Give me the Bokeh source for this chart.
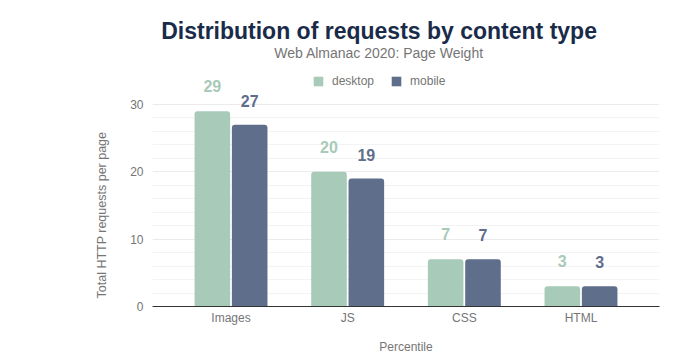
import math
from bokeh.plotting import figure
from bokeh.models import (ColumnDataSource, FactorRange, Range1d, FixedTicker,
                          Legend, LegendItem, Label, Title)
from bokeh.transform import dodge
from bokeh.core.properties import value
from bokeh.embed import file_html
from bokeh.resources import INLINE

# ---- data ----
categories = ["Images", "JS", "CSS", "HTML"]
desktop = [29, 20, 7, 3]
mobile = [27, 19, 7, 3]
y_ticks = [0, 10, 20, 30]
y_minor_ticks = [2, 4, 6, 8, 12, 14, 16, 18, 22, 24, 26, 28]

title_text = "Distribution of requests by content type"
subtitle_text = "Web Almanac 2020: Page Weight"
x_label = "Percentile"
y_label = "Total HTTP requests per page"

DESKTOP_C = "#a8cab9"
MOBILE_C = "#5f6e8a"
GRAY = "#757575"
FONT = "Liberation Sans"

source = ColumnDataSource(data=dict(
    cat=categories,
    desktop=desktop,
    mobile=mobile,
    desktop_txt=[str(v) for v in desktop],
    mobile_txt=[str(v) for v in mobile],
))

p = figure(
    width=687, height=356,
    x_range=FactorRange(factors=categories, range_padding=0.0865),
    y_range=Range1d(0, 44.26),
    output_backend="svg", toolbar_location=None,
    min_border_left=152, min_border_right=28, min_border_top=8,
    min_border_bottom=50,
)
p.outline_line_color = None
p.background_fill_color = "white"
p.border_fill_color = "white"

r1 = p.vbar(x=dodge("cat", -0.16, range=p.x_range), top="desktop", width=0.305,
            source=source, fill_color=DESKTOP_C, line_color=None,
            border_radius=(3, 3, 0, 0))
r2 = p.vbar(x=dodge("cat", 0.16, range=p.x_range), top="mobile", width=0.305,
            source=source, fill_color=MOBILE_C, line_color=None,
            border_radius=(3, 3, 0, 0))

p.text(x=dodge("cat", -0.16, range=p.x_range), y="desktop", text="desktop_txt",
       source=source, text_align="center", text_baseline="middle",
       y_offset=-25, text_font=value(FONT), text_font_style="bold",
       text_font_size="16px", text_color=DESKTOP_C)
p.text(x=dodge("cat", 0.16, range=p.x_range), y="mobile", text="mobile_txt",
       source=source, text_align="center", text_baseline="middle",
       y_offset=-24, text_font=value(FONT), text_font_style="bold",
       text_font_size="16px", text_color=MOBILE_C)

# axes
p.yaxis.ticker = FixedTicker(ticks=y_ticks, minor_ticks=y_minor_ticks)
p.yaxis.axis_line_color = None
p.yaxis.major_tick_line_color = None
p.yaxis.minor_tick_line_color = None
p.yaxis.major_tick_out = 0
p.yaxis.major_tick_in = 0
p.yaxis.major_label_standoff = 5
p.yaxis.major_label_text_font = FONT
p.yaxis.major_label_text_font_size = "12px"
p.yaxis.major_label_text_color = GRAY

p.xaxis.axis_line_color = "#333333"
p.xaxis.axis_line_width = 1
p.xaxis.major_tick_line_color = None
p.xaxis.minor_tick_line_color = None
p.xaxis.major_tick_out = 0
p.xaxis.major_tick_in = 0
p.xaxis.major_label_standoff = 4
p.xaxis.major_label_text_font = FONT
p.xaxis.major_label_text_font_size = "12px"
p.xaxis.major_label_text_color = GRAY
p.xaxis.axis_label = x_label
p.xaxis.axis_label_text_font = FONT
p.xaxis.axis_label_text_font_size = "12px"
p.xaxis.axis_label_text_font_style = "normal"
p.xaxis.axis_label_text_color = GRAY
p.xaxis.axis_label_standoff = 12

p.xgrid.grid_line_color = None
p.ygrid.grid_line_color = "#ebebeb"
p.ygrid.minor_grid_line_color = "#f3f3f3"

# titles
p.add_layout(Label(x=1.769, y=40.99, text=title_text, text_align="center",
                   text_baseline="middle", text_font=FONT, text_font_style="bold",
                   text_font_size="23px", text_color="#1a2b49"))
p.add_layout(Label(x=1.769, y=37.58, text=subtitle_text, text_align="center",
                   text_baseline="middle", text_font=FONT,
                   text_font_size="14px", text_color=GRAY))

ytitle = Title(text=y_label, align="left", offset=8, standoff=38,
               text_font=FONT, text_font_size="12.5px", text_font_style="normal",
               text_color=GRAY)
p.add_layout(ytitle, "left")

legend = Legend(items=[LegendItem(label="desktop", renderers=[r1]),
                       LegendItem(label="mobile", renderers=[r2])],
                orientation="horizontal", location=(160, 218),
                glyph_width=12, glyph_height=12, label_standoff=8, spacing=16,
                padding=0, margin=0, border_line_color=None,
                background_fill_alpha=0, label_text_font=FONT,
                label_text_font_size="12px", label_text_color=GRAY,
                label_height=12)
p.add_layout(legend)

open("out.html", "w").write(file_html(p, INLINE))
